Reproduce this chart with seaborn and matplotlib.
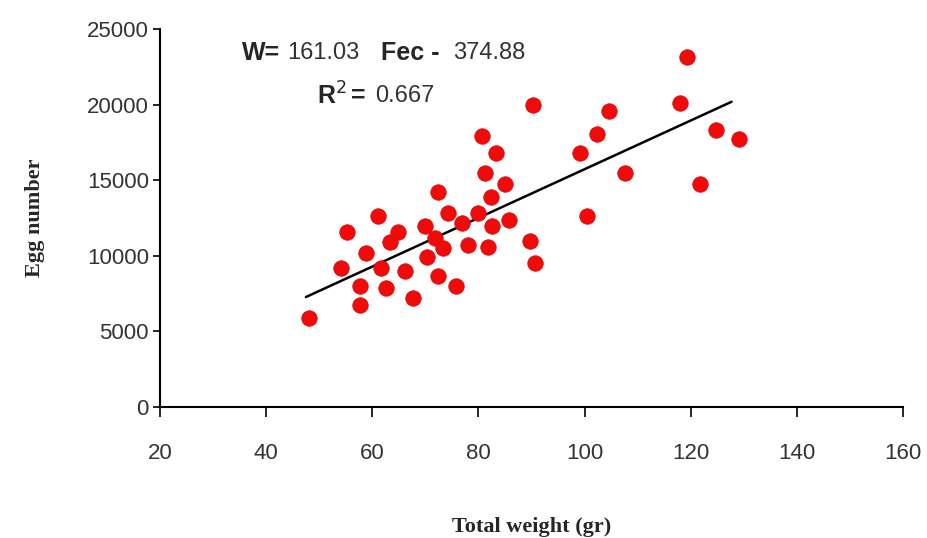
import numpy as np
import pandas as pd
import matplotlib
matplotlib.use("Agg")
import matplotlib.pyplot as plt
import seaborn as sns

# values
total_weight = [48.1, 54.2, 55.3, 57.7, 57.7, 58.9, 61.1, 61.7, 62.6, 63.4,
                64.9, 66.2, 67.7, 70.0, 70.4, 71.9, 72.3, 72.3, 73.4, 74.2,
                75.8, 77.0, 78.1, 80.0, 80.6, 81.3, 81.9, 82.3, 82.6, 83.4,
                85.1, 85.8, 89.8, 90.6, 90.2, 99.2, 100.4, 102.3, 104.7, 107.7,
                117.9, 119.4, 121.7, 124.7, 129.1]
egg_number = [5900, 9200, 11550, 8000, 6750, 10200, 12650, 9200, 7850, 10900,
              11550, 9000, 7200, 12000, 9900, 11150, 14200, 8650, 10550, 12850,
              8000, 12150, 10700, 12850, 17900, 15450, 10600, 13900, 12000, 16800,
              14750, 12400, 11000, 9500, 20000, 16800, 12650, 18050, 19600, 15450,
              20100, 23150, 14750, 18300, 17750]

# regression as printed on the chart
slope = 161.03
intercept = -374.88
r_squared = 0.667
line_x = [47.5, 127.7]

x_ticks = [20, 40, 60, 80, 100, 120, 140, 160]
y_ticks = [0, 5000, 10000, 15000, 20000, 25000]

df = pd.DataFrame({"weight": total_weight, "eggs": egg_number})
fit = pd.DataFrame({"weight": line_x})
fit["eggs"] = slope * fit["weight"] + intercept

sns.set_style("ticks")
plt.rcParams["font.family"] = ["Liberation Sans", "DejaVu Sans"]

fig = plt.figure(figsize=(9.28, 5.38), dpi=100)
ax = fig.add_axes([0.1724, 0.2435, 0.973 - 0.1724, 0.946 - 0.2435])

sns.lineplot(data=fit, x="weight", y="eggs", color="black", linewidth=1.8, ax=ax)
sns.scatterplot(data=df, x="weight", y="eggs", color="#f00a0a", s=125,
                edgecolor="#e00808", linewidth=0.5, ax=ax, zorder=3)

ax.set_xlim(20, 160)
ax.set_ylim(0, 25000)
ax.set_xticks(x_ticks)
ax.set_yticks(y_ticks)
ax.tick_params(axis="x", length=7, width=1.4, pad=19, labelsize=16, labelcolor="#333333")
ax.tick_params(axis="y", length=5, width=1.4, pad=3, labelsize=16, labelcolor="#333333")
for side in ["left", "bottom"]:
    ax.spines[side].set_linewidth(1.5)
    ax.spines[side].set_color("black")
sns.despine(ax=ax)

label_font = {"family": "Liberation Serif", "weight": "bold", "size": 16}
ax.set_xlabel("Total weight (gr)", fontdict=label_font, labelpad=38)
ax.set_ylabel("Egg number", fontdict=label_font, labelpad=30)

# equation text
row1, row2 = 23420, 20580
ax.text(35.5, row1, "W=", fontsize=18, fontweight="bold", va="center")
ax.text(44.0, row1, f"{abs(slope):.2f}", fontsize=17, color="#333333", va="center")
ax.text(61.7, row1, "Fec -", fontsize=18, fontweight="bold", va="center")
ax.text(75.3, row1, f"{abs(intercept):.2f}", fontsize=17, color="#333333", va="center")
ax.text(49.6, row2, "R$^{2}$", fontsize=18, fontweight="bold", va="center")
ax.text(56.0, row2, "=", fontsize=18, fontweight="bold", va="center")
ax.text(60.6, row2, f"{r_squared:.3f}", fontsize=17, color="#333333", va="center")

fig.savefig("out.png", dpi=100)
